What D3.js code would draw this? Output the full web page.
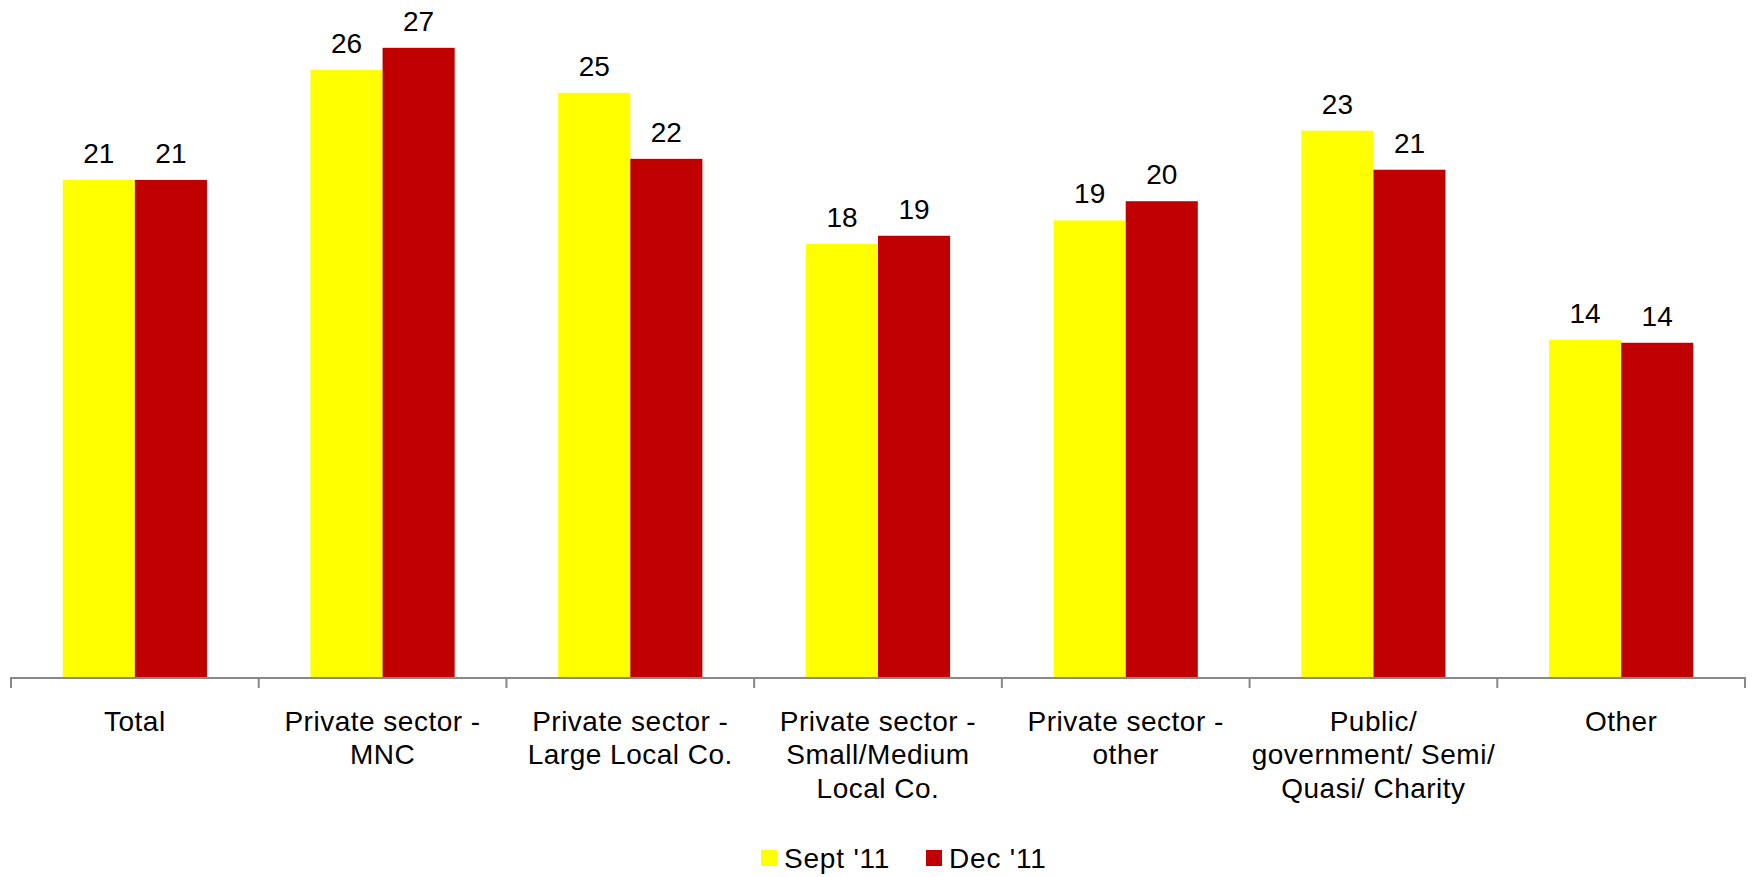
<!DOCTYPE html>
<html>
<head>
<meta charset="utf-8">
<script src="https://cdn.jsdelivr.net/npm/d3@7"></script>
<style>
  html, body { margin: 0; padding: 0; background: #ffffff; }
  svg { display: block; font-family: "Liberation Sans", Arial, sans-serif; }
</style>
</head>
<body>
<svg id="chart" width="1755" height="877"></svg>
<script>
// Categories (each entry is a list of label lines)
const categories = [
  ["Total"],
  ["Private sector -", "MNC"],
  ["Private sector -", "Large Local Co."],
  ["Private sector -", "Small/Medium", "Local Co."],
  ["Private sector -", "other"],
  ["Public/", "government/ Semi/", "Quasi/ Charity"],
  ["Other"]
];
const seriesNames = ["Sept '11", "Dec '11"];
const seriesColors = ["#FFFF00", "#C00000"];
const sept11 = [21.0, 25.65, 24.68, 18.3, 19.29, 23.08, 14.24];
const dec11  = [21.0, 26.58, 21.89, 18.64, 20.1, 21.43, 14.12];

const seriesValues = [sept11, dec11];
const rows = categories.map((c, i) => ({
  key: c.join(" "),
  lines: c,
  values: seriesNames.map((s, j) => ({ series: s, color: seriesColors[j], value: seriesValues[j][i] }))
}));

const svg = d3.select("#chart");
const left = 11, right = 1745, baseline = 677;

const x0 = d3.scaleBand()
  .domain(rows.map(r => r.key))
  .range([left, right])
  .padding(0);

const bw = x0.bandwidth();
const x1 = d3.scaleBand()
  .domain(seriesNames)
  .range([bw * 0.209, bw * 0.791])
  .padding(0);

const y = d3.scaleLinear().domain([0, 28.6]).range([baseline, 0]);

// Bars
const groups = svg.append("g").selectAll("g")
  .data(rows)
  .join("g")
  .attr("transform", d => `translate(${x0(d.key)},0)`);

groups.selectAll("rect")
  .data(d => d.values)
  .join("rect")
  .attr("x", d => x1(d.series))
  .attr("y", d => y(d.value))
  .attr("width", x1.bandwidth())
  .attr("height", d => y(0) - y(d.value))
  .attr("fill", d => d.color);

// Value labels
groups.selectAll("text.val")
  .data(d => d.values)
  .join("text")
  .attr("class", "val")
  .attr("x", d => x1(d.series) + x1.bandwidth() / 2)
  .attr("y", d => y(d.value) - 17)
  .attr("text-anchor", "middle")
  .attr("font-size", 28)
  .attr("fill", "#000")
  .text(d => d3.format(".0f")(d.value));

// Category axis with boundary ticks
const axisG = svg.append("g");
axisG.append("line")
  .attr("x1", left).attr("x2", right)
  .attr("y1", baseline + 1).attr("y2", baseline + 1)
  .attr("stroke", "#888888").attr("stroke-width", 2);

const boundaries = rows.map(r => x0(r.key)).concat([right]);
axisG.selectAll("line.tick")
  .data(boundaries)
  .join("line")
  .attr("class", "tick")
  .attr("x1", d => d).attr("x2", d => d)
  .attr("y1", baseline).attr("y2", baseline + 11)
  .attr("stroke", "#888888").attr("stroke-width", 2);

// Category labels
const catText = axisG.selectAll("text.cat")
  .data(rows)
  .join("text")
  .attr("class", "cat")
  .attr("text-anchor", "middle")
  .attr("font-size", 28)
  .attr("letter-spacing", 0.5)
  .attr("fill", "#000");

catText.selectAll("tspan")
  .data(d => d.lines.map(l => ({ l, cx: x0(d.key) + bw / 2 })))
  .join("tspan")
  .attr("x", d => d.cx)
  .attr("y", (d, i) => 731 + i * 33.3)
  .text(d => d.l);

// Legend
const legend = svg.append("g");
const legendItems = [
  { name: seriesNames[0], color: seriesColors[0], x: 761 },
  { name: seriesNames[1], color: seriesColors[1], x: 926 }
];
const li = legend.selectAll("g")
  .data(legendItems)
  .join("g")
  .attr("transform", d => `translate(${d.x},850)`);
li.append("rect")
  .attr("width", 16).attr("height", 16)
  .attr("fill", d => d.color);
li.append("text")
  .attr("x", 23).attr("y", 18)
  .attr("font-size", 28)
  .attr("letter-spacing", 0.8)
  .attr("fill", "#000")
  .text(d => d.name);
</script>
</body>
</html>
